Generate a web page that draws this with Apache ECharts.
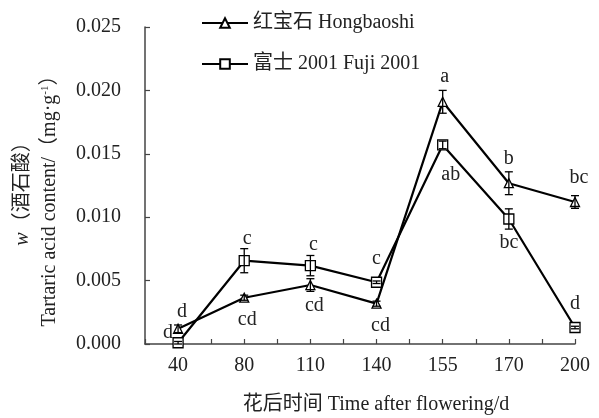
<!DOCTYPE html>
<html><head><meta charset="utf-8">
<script src="https://cdn.jsdelivr.net/npm/echarts@6/dist/echarts.min.js"></script>
<style>html,body{margin:0;padding:0;background:#fff}#c{width:599px;height:418px}</style>
</head><body><div id="c"></div>
<script>
const categories = ['40','80','110','140','155','170','200'];
const yTicks = [0, 0.005, 0.010, 0.015, 0.020, 0.025];
const hongbaoshi = [0.0012, 0.00365, 0.00465, 0.00318, 0.0191, 0.01268, 0.0112];
const hongbaoshiErr = [0.0003, 0.0002, 0.0005, 0.0002, 0.0009, 0.0009, 0.0005];
const hongbaoshiLetters = ['d','cd','cd','cd','a','b','bc'];
const fuji = [0.0001, 0.00657, 0.00618, 0.00487, 0.0157, 0.00986, 0.0013];
const fujiErr = [0.0001, 0.00095, 0.0008, 0.0001, 0.0003, 0.0008, 0.0001];
const fujiLetters = ['d','c','c','c','ab','bc','d'];

// label placements (pixel offsets of text centre from the point)
const hbOffsets = [[4,-17],[3,22],[4,21],[4,22],[2,-25],[0,-24],[4,-24]];
const fjOffsets = [[-10,-10],[3,-22],[3,-21],[0,-23],[8,30],[0,24],[0,-24]];

const FONT = '"Liberation Serif","Times New Roman","Noto Sans CJK SC",serif';
const chart = echarts.init(document.getElementById('c'), null, {renderer:'canvas'});

function pts(arr){ return arr.map((v,i)=>[i,v]); }
function errData(vals, errs){ return vals.map((v,i)=>[i, v, errs[i]]); }
function letterData(vals, letters, offs){ return vals.map((v,i)=>[i, v, letters[i], offs[i][0], offs[i][1]]); }

function errRender(params, api){
  const x = api.value(0), v = api.value(1), e = api.value(2);
  const top = api.coord([x, v+e]), bot = api.coord([x, v-e]);
  const w = 4;
  const st = {stroke:'#000', lineWidth:1.3};
  return {type:'group', children:[
    {type:'line', shape:{x1:top[0],y1:top[1],x2:bot[0],y2:bot[1]}, style:st},
    {type:'line', shape:{x1:top[0]-w,y1:top[1],x2:top[0]+w,y2:top[1]}, style:st},
    {type:'line', shape:{x1:bot[0]-w,y1:bot[1],x2:bot[0]+w,y2:bot[1]}, style:st}
  ]};
}
function letterRender(params, api){
  const p = api.coord([api.value(0), api.value(1)]);
  return {type:'text', x:p[0]+api.value(3), y:p[1]+api.value(4),
    style:{text:api.value(2), font:'20px '+FONT, fill:'#222', align:'center', verticalAlign:'middle'}};
}

const option = {
  animation:false,
  backgroundColor:'#fff',
  grid:{left:145, right:24, top:27, bottom:74, containLabel:false},
  legend:{
    orient:'vertical', left:196, top:8, itemWidth:46, itemHeight:12, itemGap:21,
    textStyle:{fontFamily:FONT, fontSize:20, color:'#222', lineHeight:20},
    data:[{name:'红宝石 Hongbaoshi'},{name:'富士 2001 Fuji 2001'}]
  },
  xAxis:{
    type:'value', min:-0.5, max:6, interval:0.5,
    axisLine:{onZero:false, lineStyle:{color:'#444', width:1.5}},
    axisTick:{inside:true, length:5, lineStyle:{color:'#444', width:1.2}},
    axisLabel:{margin:12, fontFamily:FONT, fontSize:20, color:'#222',
      showMinLabel:true, showMaxLabel:true,
      formatter:v=> Number.isInteger(v) && v>=0 ? categories[v] : ''},
    splitLine:{show:false}
  },
  yAxis:{
    type:'value', min:yTicks[0], max:yTicks[yTicks.length-1], interval:0.005,
    axisLine:{show:true, onZero:false, lineStyle:{color:'#444', width:1.5}},
    axisTick:{show:true, inside:true, length:5, lineStyle:{color:'#444', width:1.2}},
    axisLabel:{margin:24, fontFamily:FONT, fontSize:20, color:'#222', formatter:v=>v.toFixed(3)},
    splitLine:{show:false}
  },
  graphic:[
    {type:'text', x:376, y:405, style:{text:'花后时间 Time after flowering/d', font:'20px '+FONT, fill:'#222', align:'center', verticalAlign:'middle'}},
    {type:'text', x:23, y:189, rotation:Math.PI/2, style:{
      text:'{i|w}（酒石酸）', font:'20px '+FONT, fill:'#222', align:'center', verticalAlign:'middle',
      rich:{i:{fontStyle:'italic', fontFamily:FONT, fontSize:20, fill:'#222', color:'#222'}}}},
    {type:'text', x:50, y:196, rotation:Math.PI/2, style:{
      text:'Tartaric acid content/（mg·g{s|-1}）', font:'20px '+FONT, fill:'#222', align:'center', verticalAlign:'middle',
      rich:{s:{fontSize:11, fontFamily:FONT, verticalAlign:'top', color:'#222', padding:[0,0,10,0]}}}}
  ],
  series:[
    {name:'红宝石 Hongbaoshi', type:'line', data:pts(hongbaoshi), symbol:'triangle', symbolSize:9,
      lineStyle:{color:'#000', width:2.2}, itemStyle:{color:'#fff', borderColor:'#000', borderWidth:1.3}, z:3},
    {name:'富士 2001 Fuji 2001', type:'line', data:pts(fuji), symbol:'rect', symbolSize:10,
      lineStyle:{color:'#000', width:2.2}, itemStyle:{color:'#fff', borderColor:'#000', borderWidth:1.3}, z:3},
    {type:'custom', data:errData(hongbaoshi, hongbaoshiErr), renderItem:errRender, z:4, silent:true},
    {type:'custom', data:errData(fuji, fujiErr), renderItem:errRender, z:4, silent:true},
    {type:'custom', data:letterData(hongbaoshi, hongbaoshiLetters, hbOffsets), renderItem:letterRender, z:5, silent:true},
    {type:'custom', data:letterData(fuji, fujiLetters, fjOffsets), renderItem:letterRender, z:5, silent:true}
  ]
};
chart.setOption(option);
</script></body></html>
